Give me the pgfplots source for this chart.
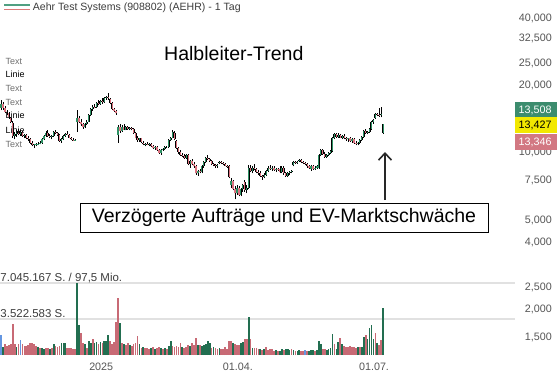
\documentclass[border=0pt]{standalone}
\usepackage{pgfplots}
\pgfplotsset{compat=1.18}
\usepackage{pgfplotstable}
\usepackage{fontspec}
\setmainfont{Liberation Sans}
\usetikzlibrary{arrows.meta}
\definecolor{cgreen}{RGB}{45,145,100}
\definecolor{cred}{RGB}{220,115,128}
\definecolor{vgreen}{RGB}{34,110,80}
\definecolor{vred}{RGB}{200,106,117}
\definecolor{vblue}{RGB}{100,150,225}
\definecolor{lblgray}{RGB}{85,85,85}
\definecolor{txtgray}{RGB}{110,110,110}
\definecolor{bgreen}{RGB}{60,140,110}
\definecolor{byellow}{RGB}{242,232,0}
\definecolor{bred}{RGB}{210,120,130}
\definecolor{gridgray}{RGB}{225,225,225}
\definecolor{leggreen}{RGB}{80,160,130}
\definecolor{legred}{RGB}{220,120,120}
\definecolor{arrowgray}{RGB}{40,40,40}

\pgfplotstableread{
j o h l c v vc
0 15.9 17.2 15.5 16.6 2.0 2
1 16.5 16.9 15.6 15.9 0.8 1
2 15.8 16.2 15.0 15.3 1.1 0
3 15.3 15.6 14.7 15.0 0.9 0
4 15.0 15.2 14.2 14.4 1.0 0
5 14.3 14.5 13.6 13.8 1.1 0
6 13.6 13.9 11.7 11.9 3.0 0
7 11.9 12.4 11.5 12.1 1.1 0
8 12.1 12.7 11.8 12.5 0.8 1
9 12.5 12.8 12.0 12.2 1.1 0
10 12.2 12.6 11.9 12.4 1.5 2
11 12.4 12.5 11.8 11.9 1.1 0
12 11.9 12.2 11.6 12.0 0.9 0
13 12.0 12.1 11.5 11.7 0.9 0
14 11.7 11.9 11.3 11.5 1.0 0
15 11.5 11.6 11.0 11.1 1.2 0
16 11.1 11.3 10.7 10.8 1.2 0
17 10.8 11.0 10.5 10.9 1.1 0
18 10.9 11.1 10.7 10.95 0.9 0
19 10.95 11.2 10.8 11.0 0.8 1
20 11.0 11.3 10.9 11.1 0.7 0
21 11.1 11.6 11.0 11.5 0.7 1
22 11.5 12.0 11.4 11.9 0.6 1
23 11.9 12.5 11.8 12.3 0.7 0
24 12.3 12.6 11.8 11.9 0.7 0
25 11.9 12.1 11.6 11.8 0.6 1
26 11.8 12.0 11.5 11.9 0.7 0
27 11.9 12.5 11.8 12.4 1.1 1
28 12.4 12.6 12.1 12.3 0.9 0
29 12.3 12.4 11.9 12.0 0.8 0
30 12.0 12.1 11.2 11.3 0.9 0
31 11.3 11.6 11.1 11.5 1.2 1
32 11.5 12.0 11.4 11.9 1.2 1
33 11.9 12.3 11.8 12.2 1.2 1
34 12.2 12.5 12.0 12.1 0.7 0
35 12.0 12.1 11.6 11.7 0.7 0
36 11.7 11.8 11.4 11.5 0.7 0
37 11.45 11.6 11.3 11.4 0.6 0
38 11.4 11.55 11.3 11.45 0.6 0
39 13.7 15.5 12.4 14.3 7.05 1
40 14.3 14.6 13.6 13.8 2.9 1
41 13.8 14.2 13.2 13.4 2.2 0
42 13.4 13.6 12.8 13.0 1.2 0
43 13.0 13.6 12.9 13.5 1.1 1
44 13.5 14.0 13.3 13.8 0.7 0
45 13.8 14.9 13.7 14.7 1.4 1
46 14.7 15.9 14.6 15.7 1.2 1
47 15.7 16.3 15.4 16.1 1.6 0
48 16.1 16.6 15.8 16.0 1.2 1
49 16.0 16.9 15.9 16.7 1.3 1
50 16.7 17.2 16.3 16.5 1.1 0
51 16.5 17.3 16.4 17.1 1.3 1
52 17.1 17.5 16.6 16.8 1.2 0
53 16.8 17.8 16.7 17.6 1.4 1
54 17.6 17.9 17.2 17.8 1.4 1
55 17.8 18.5 17.3 17.5 2.0 1
56 17.4 17.6 16.5 16.7 1.4 0
57 16.7 16.9 15.5 15.7 1.1 0
58 15.7 15.9 15.2 15.4 1.3 0
59 15.4 15.6 14.8 15.0 3.2 0
60 12.0 13.3 11.1 13.0 5.6 0
61 13.0 13.4 12.3 12.5 3.1 1
62 12.5 13.3 12.4 13.1 1.2 0
63 13.1 13.4 12.6 12.7 1.1 1
64 12.7 13.2 12.6 13.0 1.0 0
65 13.0 13.2 12.7 12.8 1.2 0
66 12.8 13.0 12.6 12.85 1.0 1
67 12.85 13.0 12.6 12.75 0.9 0
68 12.8 12.9 12.2 12.3 1.1 0
69 12.3 12.4 11.6 11.7 1.2 0
70 11.7 11.9 11.2 11.4 1.9 0
71 11.4 11.7 11.2 11.6 1.1 1
72 11.6 11.7 11.1 11.2 0.7 0
73 11.1 11.3 10.8 10.9 0.8 1
74 10.9 11.1 10.7 11.0 0.7 0
75 11.0 11.2 10.8 10.9 0.7 0
76 10.9 11.1 10.7 11.0 0.6 0
77 11.0 11.1 10.6 10.7 0.7 1
78 10.7 10.8 10.4 10.5 0.8 0
79 10.5 10.7 10.3 10.6 0.6 1
80 10.6 10.7 10.2 10.3 0.7 0
81 10.3 10.4 9.9 10.0 0.8 0
82 10.0 10.4 9.8 10.3 0.7 1
83 10.3 10.5 10.2 10.4 0.6 0
84 10.4 10.7 10.3 10.6 0.7 1
85 10.6 10.7 10.5 10.6 0.6 0
86 10.6 11.5 10.5 11.4 0.9 1
87 11.4 11.8 11.3 11.7 1.4 1
88 11.7 12.7 11.6 12.4 0.9 0
89 12.3 12.5 11.4 11.5 0.8 0
90 11.3 11.4 10.4 10.5 0.9 0
91 10.5 10.6 9.9 10.1 0.8 0
92 10.1 10.3 9.7 9.8 1.2 0
93 9.8 10.0 9.6 9.7 0.8 1
94 9.7 9.9 9.4 9.5 0.7 0
95 9.5 9.9 9.4 9.8 0.8 0
96 9.8 9.9 8.8 8.9 1.0 0
97 8.9 9.3 8.6 9.2 0.9 1
98 9.2 9.4 8.8 8.9 1.2 0
99 8.9 9.1 8.6 8.7 1.0 0
100 8.7 8.8 8.0 8.1 1.7 0
101 8.1 8.4 7.9 8.3 1.0 1
102 8.3 8.5 8.1 8.2 1.0 0
103 8.2 8.8 8.1 8.7 0.9 1
104 8.7 9.2 8.6 9.1 1.0 1
105 9.1 9.6 9.0 9.5 1.1 1
106 9.5 9.8 9.3 9.4 1.4 1
107 9.4 9.5 9.1 9.2 1.2 1
108 9.2 9.3 8.8 8.9 0.7 0
109 8.9 9.0 8.7 8.8 0.8 1
110 8.8 8.9 8.6 8.75 0.7 0
111 8.75 8.9 8.6 8.8 0.6 0
112 9.0 9.2 8.9 9.1 0.7 1
113 9.1 9.2 8.9 9.0 0.6 0
114 9.0 9.1 8.8 8.9 0.6 0
115 8.9 9.0 8.7 8.75 0.8 0
116 8.75 8.8 8.6 8.7 0.6 0
117 8.7 8.8 7.7 7.8 1.4 0
118 7.2 7.7 7.0 7.5 1.4 0
119 7.5 7.6 6.8 6.9 1.2 1
120 6.9 7.1 6.2 6.6 1.1 0
121 6.6 7.2 6.5 7.0 1.0 0
122 7.0 7.1 6.4 6.5 1.0 0
123 6.5 7.0 6.4 6.9 1.2 1
124 6.9 7.3 6.7 7.2 1.3 1
125 7.4 7.6 6.7 6.8 1.6 0
126 6.8 7.2 6.6 7.0 1.6 0
127 7.0 8.8 6.9 8.6 3.7 1
128 8.6 8.8 8.2 8.3 1.6 0
129 8.3 8.7 8.1 8.6 0.7 1
130 8.6 8.9 8.4 8.5 0.7 0
131 8.5 8.6 8.1 8.2 0.7 0
132 8.2 8.4 8.0 8.1 0.6 0
133 8.1 8.3 7.8 7.9 0.6 1
134 7.9 8.0 7.6 7.8 0.5 0
135 7.8 8.1 7.7 8.0 0.6 1
136 8.0 8.4 7.9 8.3 0.8 0
137 8.3 8.7 8.2 8.6 0.5 0
138 8.6 8.8 8.4 8.5 0.6 0
139 8.5 8.7 8.3 8.6 0.6 0
140 8.6 8.7 8.3 8.4 0.4 0
141 8.4 8.6 8.2 8.5 0.5 1
142 8.5 8.6 8.3 8.45 0.4 0
143 8.45 8.7 8.1 8.2 0.4 1
144 8.2 8.7 8.1 8.6 0.6 1
145 8.6 8.7 8.0 8.1 0.5 0
146 8.1 8.2 7.8 7.9 0.6 1
147 7.9 8.2 7.8 8.1 0.6 1
148 8.1 8.3 8.0 8.2 0.5 1
149 8.2 8.4 8.1 8.3 0.6 0
150 8.8 9.2 8.7 9.1 0.5 1
151 9.1 9.2 8.9 9.0 0.4 0
152 9.0 9.2 8.95 9.1 0.4 1
153 9.2 9.4 9.1 9.3 0.5 1
154 9.3 9.4 9.0 9.1 0.4 0
155 9.1 9.2 8.9 9.0 0.4 0
156 9.0 9.1 8.8 8.95 0.5 2
157 8.9 9.0 8.6 8.7 0.4 0
158 8.7 8.8 8.5 8.6 0.4 1
159 8.5 8.8 8.3 8.7 0.5 1
160 8.7 8.8 8.4 8.5 0.5 1
161 8.5 8.7 8.4 8.6 0.4 0
162 8.6 8.8 8.5 8.7 0.5 1
163 8.6 9.9 8.5 9.8 1.4 1
164 9.8 10.4 9.7 10.3 1.1 1
165 10.3 10.4 9.8 9.9 0.6 0
166 9.9 10.1 9.5 9.6 0.6 0
167 9.6 9.9 9.5 9.8 0.5 1
168 9.8 10.1 9.7 10.0 0.6 1
169 10.0 10.3 9.9 10.2 0.7 1
170 10.2 11.8 10.1 11.6 2.1 1
171 11.6 12.3 11.5 12.1 1.1 0
172 12.1 12.3 11.6 11.8 0.6 1
173 11.8 12.3 11.7 12.0 1.3 1
174 12.0 12.2 11.6 11.7 1.7 0
175 11.7 12.0 11.5 11.9 1.1 1
176 11.9 12.1 11.5 11.6 0.9 0
177 11.6 11.8 11.3 11.5 0.8 0
178 11.5 11.7 11.2 11.6 0.8 0
179 11.6 11.8 11.2 11.3 0.9 0
180 11.3 11.6 11.1 11.5 0.8 0
181 11.5 11.6 11.0 11.1 0.8 0
182 11.1 11.3 10.8 11.0 0.7 0
183 11.0 11.2 10.8 11.1 0.8 1
184 11.1 11.5 10.9 11.4 0.8 0
185 11.4 11.9 11.3 11.8 0.8 1
186 11.8 12.7 11.7 12.5 1.8 1
187 12.5 12.8 12.2 12.3 2.0 0
188 12.3 12.5 12.1 12.4 1.6 1
189 12.4 12.9 12.3 12.8 2.6 1
190 12.8 13.9 12.7 13.8 2.9 1
191 13.8 14.1 13.5 14.0 1.6 1
192 14.3 15.0 14.2 14.9 2.2 0
193 14.9 15.1 14.6 14.7 1.2 1
194 14.8 15.8 14.5 14.6 1.0 0
195 14.7 16.0 14.4 14.9 1.5 0
196 12.3 13.5 12.2 13.43 4.6 1
}\candles

% volume panel inside the same axis: baseline at 0.22485 (ln units), 0.10505 per million shares
\newcommand{\vbase}{0.22485}
\newcommand{\vscale}{0.10505}

\begin{document}
\begin{tikzpicture}[x=1bp,y=1bp]
\useasboundingbox (0,0) rectangle (559,374);
\begin{axis}[at={(0,0)}, anchor=south west, scale only axis,
  width=515bp, height=374bp,
  xmin=-0.513, xmax=263.6, ymin=0.02956, ymax=3.8739, enlargelimits=false,
  axis line style={draw=none}, major tick length=0pt,
  xtick={51.4,121.5,191.3}, xticklabels={2025,01.04.,01.07.},
  xticklabel style={font=\fontsize{10.8}{12}\selectfont, text=lblgray, anchor=base, inner sep=0pt, yshift=4bp},
  ytick={0.40547,0.69315,0.91629,1.38629,1.60944,2.01490,2.30259,2.99573,3.21888,3.48124,3.68888},
  yticklabels={{1,500},{2,000},{2,500},{4,000},{5,000},{7,500},{10,000},{20,000},{25,000},{32,500},{40,000}},
  yticklabel pos=right,
  yticklabel style={font=\fontsize{10.8}{12}\selectfont, text=lblgray, anchor=east, inner sep=0pt, xshift=37bp},
  extra y ticks={0.59490,0.96496},
  extra y tick labels={},
  extra y tick style={grid=major, major grid style={gridgray, line width=1.3bp}},
  clip=false]
% ---------- volume bars
\addplot[draw=none, mark=none, forget plot,
  restrict expr to domain={\thisrow{vc}}{0.5:1.5},
  error bars/.cd, y dir=plus, y explicit, error mark=none,
  error bar style={draw=vgreen, line width=1.75bp, line cap=butt, solid}]
  table[x=j, y expr=\vbase, y error plus expr=\vscale*\thisrow{v}]{\candles};
\addplot[draw=none, mark=none, forget plot,
  restrict expr to domain={\thisrow{vc}}{-0.5:0.5},
  error bars/.cd, y dir=plus, y explicit, error mark=none,
  error bar style={draw=vred, line width=1.75bp, line cap=butt, solid}]
  table[x=j, y expr=\vbase, y error plus expr=\vscale*\thisrow{v}]{\candles};
\addplot[draw=none, mark=none, forget plot,
  restrict expr to domain={\thisrow{vc}}{1.5:2.5},
  error bars/.cd, y dir=plus, y explicit, error mark=none,
  error bar style={draw=vblue, line width=1.75bp, line cap=butt, solid}]
  table[x=j, y expr=\vbase, y error plus expr=\vscale*\thisrow{v}]{\candles};
% ---------- wicks
\addplot[draw=none, mark=none, forget plot,
  error bars/.cd, y dir=plus, y explicit, error mark=none,
  error bar style={draw=black, line width=0.6bp, solid}]
  table[x=j, y expr=ln(\thisrow{l}), y error plus expr=ln(\thisrow{h})-ln(\thisrow{l})]{\candles};
% ---------- green bodies
\addplot[draw=none, mark=none, forget plot,
  restrict expr to domain={\thisrow{c}-\thisrow{o}}{0:100},
  error bars/.cd, y dir=plus, y explicit, error mark=none,
  error bar style={draw=black, line width=2.0bp, line cap=butt, solid}]
  table[x=j, y expr=ln(\thisrow{o}), y error plus expr=ln(\thisrow{c})-ln(\thisrow{o})]{\candles};
\addplot[draw=none, mark=none, forget plot,
  restrict expr to domain={\thisrow{c}-\thisrow{o}}{0:100},
  error bars/.cd, y dir=plus, y explicit, error mark=none,
  error bar style={draw=cgreen, line width=1.25bp, line cap=butt, solid}]
  table[x=j, y expr=ln(\thisrow{o}), y error plus expr=ln(\thisrow{c})-ln(\thisrow{o})]{\candles};
% ---------- red bodies
\addplot[draw=none, mark=none, forget plot,
  restrict expr to domain={\thisrow{c}-\thisrow{o}}{-100:-0.00001},
  error bars/.cd, y dir=plus, y explicit, error mark=none,
  error bar style={draw=black, line width=2.0bp, line cap=butt, solid}]
  table[x=j, y expr=ln(\thisrow{c}), y error plus expr=ln(\thisrow{o})-ln(\thisrow{c})]{\candles};
\addplot[draw=none, mark=none, forget plot,
  restrict expr to domain={\thisrow{c}-\thisrow{o}}{-100:-0.00001},
  error bars/.cd, y dir=plus, y explicit, error mark=none,
  error bar style={draw=cred, line width=1.25bp, line cap=butt, solid}]
  table[x=j, y expr=ln(\thisrow{c}), y error plus expr=ln(\thisrow{o})-ln(\thisrow{c})]{\candles};
\end{axis}
% ---------------- annotations
% legend
\draw[leggreen, line width=1.4bp] (4,369) -- (30,369);
\draw[legred, line width=1.4bp] (4,364.7) -- (30,364.7);
\node[anchor=base west, inner sep=0, text={rgb,255:red,60;green,60;blue,60}, font=\fontsize{10.6}{12}\selectfont] at (32.7,363.2) {Aehr Test Systems (908802) (AEHR) - 1 Tag};
% title
\node[anchor=base west, inner sep=0, font=\fontsize{19.6}{22}\selectfont] at (164,313.2) {Halbleiter-Trend};
% left labels
\begin{scope}[every node/.style={anchor=base west, inner sep=0, font=\fontsize{9}{10}\selectfont}]
\node[text=txtgray] at (5.5,309.8) {Text};
\node[text=black] at (5.5,296.5) {Linie};
\node[text=txtgray] at (5.5,282.5) {Text};
\node[text=txtgray] at (5.5,268.5) {Text};
\node[text=black] at (5.5,255.1) {Linie};
\node[text=black] at (5.5,240.8) {Linie};
\node[text=txtgray] at (5.5,226.8) {Text};
\end{scope}
% boxed comment
\node[draw=black, line width=0.8bp, minimum width=408bp, minimum height=29bp, inner sep=0, fill=white,
  font=\fontsize{19.6}{22}\selectfont] at (284,156.5) {Verzögerte Aufträge und EV-Marktschwäche};
% arrow
\draw[arrowgray, line width=1.6bp, -{Straight Barb[length=7bp,width=13bp]}] (385,174) -- (385,222);
% price boxes
\fill[bgreen] (515,257.3) rectangle (557,272.3);
\node[anchor=base west, inner sep=0, text=white, font=\fontsize{10.8}{12}\selectfont] at (518.5,260.9) {13,508};
\fill[byellow] (515,241.3) rectangle (557,256.7);
\node[anchor=base west, inner sep=0, text=black, font=\fontsize{10.8}{12}\selectfont] at (518.5,245.1) {13,427};
\fill[bred] (515,224) rectangle (557,240);
\node[anchor=base west, inner sep=0, text=white, font=\fontsize{10.8}{12}\selectfont] at (518.5,228.1) {13,346};
% volume labels
\node[anchor=base west, inner sep=0, text={rgb,255:red,60;green,60;blue,60}, font=\fontsize{11.5}{13}\selectfont] at (0.3,93) {7.045.167 S. / 97,5 Mio.};
\node[anchor=base west, inner sep=0, text={rgb,255:red,60;green,60;blue,60}, font=\fontsize{11.5}{13}\selectfont] at (0.3,57) {3.522.583 S.};
\end{tikzpicture}
\end{document}
